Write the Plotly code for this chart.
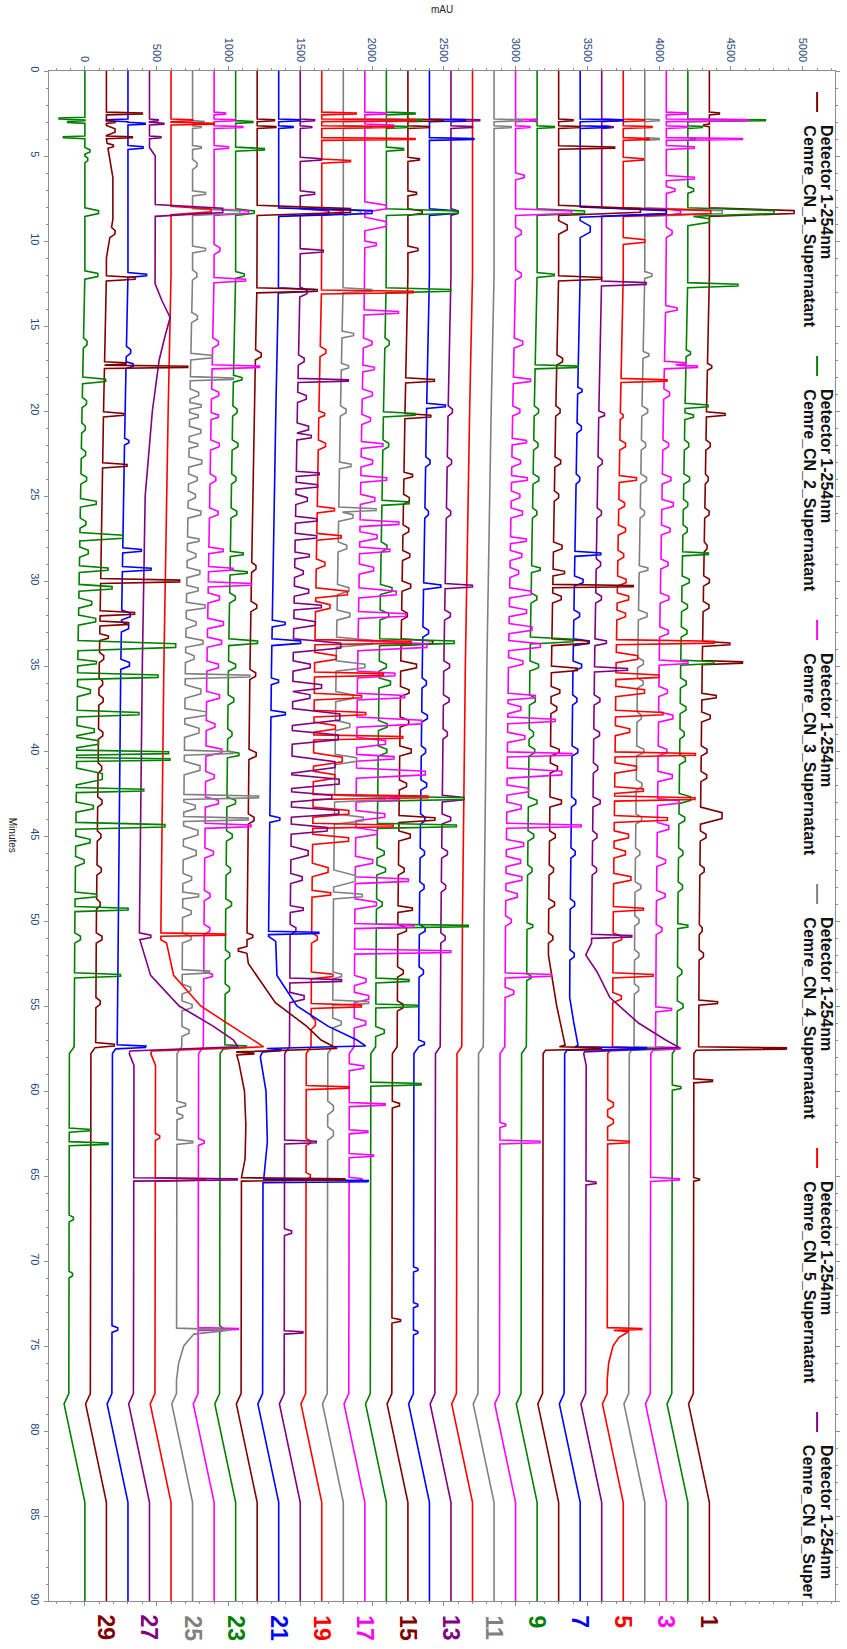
import numpy as np
import plotly.graph_objects as go

# ---- stacked chromatogram data (x: mAU, y: minutes) -------------------------
N_RUNS = 30
OFFSET_STEP = 150          # mAU shift between consecutive runs
RUN_COLORS = ["#800000", "#008000", "#ff00ff", "#808080", "#ff0000", "#800080", "#0000ff"]
X_TICKS = [0, 500, 1000, 1500, 2000, 2500, 3000, 3500, 4000, 4500, 5000]
Y_TICKS = list(range(0, 91, 5))
LABELED_RUNS = [1, 3, 5, 7, 9, 11, 13, 15, 17, 19, 21, 23, 25, 27, 29]
LEGEND_RUNS = [1, 2, 3, 4, 5, 6]

# gradient baseline drift shared by all runs: (minute, mAU)
DRIFT = [(0, 0), (12, 0), (20, -20), (35, -50), (50, -70), (57.4, -75), (57.8, -108),
         (77.8, -112), (78.4, -145), (84.2, 0), (90, 0)]

# peaks per run: (retention minute, height mAU, half width minutes)
P01 = [(2.5, 70, .08), (3.2, -40, .08), (8.3, 590, .25), (17.4, 30, .2), (20.2, 130, .15), (22, 30, .3),
       (24, 20, .3), (26, 30, .3), (28, 20, .3), (30, 40, .3), (31.5, 40, .3), (33.7, 190, .15),
       (34.8, 280, .12), (36.8, 100, .2), (38, 60, .3), (40, 40, .3), (41.5, 40, .3), (43.8, 150, .5),
       (45, 40, .3), (47, 30, .3), (50.5, 20, .3), (52, 30, .3), (54.8, 130, .15), (57.5, 620, .1),
       (59.4, 130, .12), (65.2, 40, .1)]
P02 = [(2.9, 540, .08), (3.3, 100, .08), (4.0, 50, .08), (7.0, 40, .2), (8.3, 600, .25), (8.8, 150, .3),
       (12.6, 350, .15), (16.6, 30, .2), (19.7, 160, .15), (20.3, 60, .2), (22, 30, .3), (24, 40, .3),
       (25.5, 30, .3), (27, 30, .3), (28.4, 180, .12), (30, 50, .3), (31.5, 40, .3), (33, 40, .3),
       (34.8, 230, .15), (36, 40, .3), (37.5, 40, .3), (39, 30, .3), (40.5, 40, .3), (42.8, 80, .3),
       (44, 40, .3), (46, 30, .3), (48, 30, .3), (50.3, 70, .15), (53, 30, .3), (55, 40, .3), (59.8, 60, .15)]
P03 = [(2.5, 150, .08), (2.9, 570, .08), (3.3, 150, .08), (4.0, 530, .08), (4.5, 195, .12), (6.3, 195, .15),
       (7.0, 60, .2), (8.3, 100, .2), (9.5, 40, .3), (14.0, 80, .2), (17.2, 150, .12), (17.4, 230, .12),
       (19, 40, .3), (22, 40, .3), (24, 60, .3), (25.5, 80, .3), (27, 60, .3), (29, 50, .3), (31, 60, .3),
       (33, 60, .3), (34.8, 200, .15), (36.5, 60, .3), (38, 100, .3), (40, 60, .3), (41.5, 100, .3),
       (43, 150, .2), (44.5, 80, .3), (46.5, 60, .3), (48.5, 60, .3), (50.5, 40, .3), (55.2, 110, .15),
       (57.5, 180, .1), (65.2, 200, .12)]
P04 = [(2.9, 100, .08), (4.0, 100, .08), (8.3, 540, .25), (12, 50, .2), (16.7, 40, .2), (20, 40, .3),
       (22, 30, .3), (24, 40, .3), (26, 30, .3), (29.3, 60, .2), (32, 60, .3), (34.8, 40, .3), (36, 40, .3),
       (38, 30, .3), (40, 50, .3), (42, 40, .3), (44, 40, .3), (46, 30, .3), (48, 40, .3), (50, 30, .3),
       (52, 30, .3), (54, 30, .3), (57.5, 230, .1)]
P05 = [(2.9, 150, .08), (3.3, 200, .08), (4.0, 180, .08), (5.2, 140, .12), (8.3, 610, .25), (10.0, 150, .2),
       (18.2, 320, .12), (20.3, 20, .2), (22, 40, .3), (24, 120, .2), (25.5, 40, .3), (27, 50, .3),
       (28.5, 40, .3), (30, 60, .3), (31, 80, .3), (32, 60, .3), (33.6, 680, .15), (34.5, 150, .3),
       (35.6, 300, .2), (36.5, 200, .3), (37.8, 330, .2), (38.8, 100, .3), (40.2, 560, .15), (41, 150, .3),
       (42.3, 200, .2), (42.8, 560, .15), (44, 370, .2), (45, 100, .3), (46, 80, .3), (47.5, 120, .3),
       (49.3, 210, .15), (51, 60, .3), (53.2, 280, .15), (54.5, 60, .3), (57.5, 200, .1), (60.8, 40, .3),
       (61.8, 40, .3), (63, 150, .12), (74.0, 240, .08)]
P06 = [(2.9, 120, .08), (3.3, 80, .08), (8.3, 450, .25), (12.5, 310, .15), (20.2, 40, .2), (23, 30, .3),
       (26, 30, .3), (29, 30, .3), (31, 40, .3), (33.6, 80, .2), (35.2, 230, .15), (37, 40, .3), (39, 40, .3),
       (41, 30, .3), (43, 50, .3), (45, 30, .3), (47, 30, .3), (50.9, 280, .12), (65.4, 70, .12)]
P07 = [(2.9, 300, .08), (3.3, 200, .08), (8.3, 600, .3), (9.3, 70, .5), (18.8, 30, .2), (21, 30, .3),
       (24, 25, .3), (28.4, 180, .15), (30, 60, .3), (32, 40, .3), (33.6, 110, .2), (35, 60, .3), (37, 30, .3),
       (40, 40, .3), (43, 30, .3), (46, 30, .3), (49, 30, .3), (52, 30, .3), (57.5, 520, .1)]
P08 = [(2.9, 100, .08), (3.3, 150, .08), (4.5, 390, .1), (8.2, 570, .3), (9.2, 60, .4), (12.2, 300, .15),
       (17, 40, .3), (20, 30, .3), (23, 40, .3), (25, 30, .3), (28, 60, .3), (29.5, 80, .2), (30.3, 560, .1),
       (31, 60, .3), (33.6, 250, .2), (35.2, 180, .2), (36.5, 60, .3), (37.5, 40, .3), (40, 60, .3),
       (41, 50, .3), (43, 80, .3), (45, 40, .3), (47, 30, .3), (49, 40, .3), (51, 30, .3), (57.5, 330, .1)]
P09 = [(2.9, -50, .08), (3.3, 120, .08), (8.3, 330, .2), (12.0, 120, .15), (17.4, 300, .12), (20, 30, .3),
       (22, 30, .3), (24, 40, .3), (26, 30, .3), (29.3, 60, .2), (31, 40, .3), (33.5, 300, .2), (35, 60, .3),
       (37, 40, .3), (39, 30, .3), (40, 40, .3), (43, 60, .3), (45, 40, .3), (47, 30, .3), (50.3, 40, .2),
       (53.3, 30, .2)]
P10 = [(2.9, 150, .08), (3.3, 100, .08), (6.2, 60, .2), (8.3, 390, .2), (9.5, 40, .3), (12, 40, .3),
       (16, 60, .3), (18.2, 120, .2), (20, 50, .3), (21.8, 100, .2), (23, 60, .3), (24, 110, .2), (25, 60, .3),
       (26, 80, .3), (27.6, 110, .2), (28.5, 80, .3), (29.5, 60, .3), (30.7, 150, .3), (31.8, 120, .3),
       (32.8, 160, .3), (33.8, 220, .3), (34.8, 100, .3), (36.8, 190, .2), (37.5, 90, .3), (38.2, 330, .2),
       (39.2, 120, .3), (40.2, 450, .15), (41.3, 380, .3), (42.3, 150, .3), (43.3, 100, .3), (44.4, 520, .15),
       (45.5, 120, .3), (46.5, 100, .3), (47.5, 110, .3), (48.5, 80, .3), (50, 40, .3), (53.2, 320, .15),
       (54.2, 60, .3), (62, 40, .15), (63, 280, .12)]
P11 = [(2.9, 200, .08), (3.3, 120, .08)]
P12 = []
P13 = [(2.9, 200, .08), (3.3, 150, .08), (8.3, 50, .2), (20, 30, .3), (23, 30, .3), (26, 30, .3),
       (30.3, 190, .15), (32, 40, .3), (35, 40, .3), (37, 40, .3), (39, 30, .3), (42.8, 150, .2), (44, 60, .3),
       (46, 40, .3), (48, 30, .3), (51, 30, .3)]
P14 = [(2.9, 250, .08), (4.0, 310, .08), (8.3, 200, .2), (19.7, 130, .15), (23, 30, .3), (26, 25, .3),
       (30.3, 120, .2), (33, 40, .3), (36, 30, .3), (38, 40, .3), (40, 30, .3), (42, 40, .3), (44, 30, .3),
       (46, 30, .3), (48, 30, .3), (50.5, 40, .3), (53, 30, .3), (57.2, 40, .2), (70.5, 30, .15),
       (72.6, 30, .15), (74.2, 30, .15)]
P15 = [(2.9, 250, .08), (3.3, 150, .08), (5.2, 80, .12), (7.2, 60, .15), (8.3, 100, .2), (10.5, 70, .2),
       (18.2, 200, .15), (20.3, 180, .15), (23.8, 60, .2), (25.2, 40, .3), (27, 40, .3), (28.5, 50, .3),
       (30.3, 60, .3), (32, 40, .3), (33.6, 220, .2), (35, 110, .3), (36.5, 60, .3), (38.3, 60, .3),
       (40, 80, .3), (42, 50, .3), (44, 250, .2), (45, 80, .3), (47, 40, .3), (49.3, 100, .2), (50.5, 60, .3),
       (53, 40, .3), (55, 40, .3), (60.8, 50, .2), (73.5, 60, .15)]
P16 = [(2.5, 200, .08), (2.9, 250, .08), (3.3, 150, .08), (4.6, 120, .12), (8.3, 500, .2), (12.9, 450, .15),
       (16, 30, .3), (20.2, 220, .15), (22, 40, .3), (25.4, 190, .15), (28, 40, .3), (30.5, 80, .3),
       (32, 60, .3), (33.6, 520, .2), (35, 50, .3), (36, 80, .3), (38.5, 60, .3), (40, 60, .3),
       (42.8, 600, .15), (44.4, 550, .15), (46, 50, .3), (47, 60, .3), (49, 40, .3), (50.3, 640, .12),
       (53.5, 230, .15), (55.0, 290, .12), (56.5, 60, .3), (59.6, 350, .12)]
P17 = [(2.5, 150, .08), (2.9, 300, .08), (3.2, 200, .08), (8.0, 150, .3), (9.0, 150, .4), (10.2, 80, .2),
       (14.2, 240, .15), (16, 60, .3), (17.5, 80, .2), (19, 70, .3), (20.5, 60, .3), (22, 150, .2), (23, 80, .3),
       (24, 180, .2), (25.2, 100, .3), (26.6, 270, .2), (27.4, 120, .3), (28.2, 210, .2), (29.3, 100, .3),
       (30.7, 260, .3), (32, 330, .2), (33.8, 480, .3), (35.5, 260, .2), (36.8, 330, .2), (38.3, 450, .3),
       (39.5, 200, .3), (40.4, 260, .2), (41.3, 480, .3), (42.8, 300, .2), (43.8, 200, .3), (44.8, 150, .3),
       (46.5, 120, .3), (47.6, 370, .2), (49, 150, .3), (50.3, 410, .15), (51.8, 670, .15), (53.5, 80, .3),
       (54.5, 100, .3), (56, 80, .3), (58.6, 100, .2), (60.8, 250, .12), (62.4, 130, .12), (63.8, 170, .12),
       (65.2, 90, .12)]
P18 = [(2.9, 450, .08), (3.3, 200, .08), (8.3, 120, .2), (12.9, 200, .15), (15.5, 80, .2), (17.4, 50, .2),
       (20, 40, .3), (23.2, 80, .2), (25.8, 260, .15), (26.2, 100, .3), (28, 60, .3), (30.5, 80, .3),
       (32, 90, .3), (33.6, 250, .3), (35, 200, .3), (36.8, 120, .3), (38.5, 100, .3), (40.5, 150, .3),
       (42.8, 350, .2), (44, 200, .3), (47.5, 150, .5), (48.5, 200, .2), (53.2, 60, .2), (54.8, 250, .15),
       (56, 60, .3), (61, 40, .4), (62.5, 40, .4)]
P19 = [(2.5, 240, .08), (2.9, 650, .08), (3.3, 500, .08), (4.0, 650, .08), (5.3, 200, .12), (8.3, 150, .2),
       (13.0, 640, .12), (16.5, 40, .3), (20.2, 40, .2), (22, 50, .3), (25.8, 120, .2), (27.4, 170, .2),
       (29, 60, .3), (30.7, 220, .3), (31.5, 100, .3), (33.6, 670, .15), (34.5, 150, .3), (35.5, 480, .15),
       (36.8, 330, .2), (37.8, 360, .2), (38.6, 150, .3), (39.2, 620, .15), (40.5, 200, .4), (41.5, 150, .3),
       (42.7, 800, .15), (43.6, 250, .3), (44.4, 560, .15), (45.2, 250, .3), (47, 110, .4), (48.4, 130, .2),
       (51, 40, .3), (53.2, 150, .2), (55.0, 350, .15), (56, 30, .4), (59.8, 300, .12), (63, 30, .2),
       (65, 30, .2)]
P20 = [(2.9, 100, .08), (3.3, 80, .08), (5.2, 150, .12), (7.2, 100, .15), (8.3, 200, .2), (10.6, 160, .15),
       (13, 50, .3), (17, 40, .3), (18.2, 350, .12), (19.2, 60, .3), (21.0, 80, .3), (21.5, 100, .2),
       (23.7, 160, .15), (24.4, 150, .2), (25.2, 80, .3), (26.4, 150, .2), (27.4, 150, .2), (28.5, 100, .2),
       (29.5, 60, .3), (30.6, 100, .3), (31.5, 190, .2), (32.5, 150, .3), (33.8, 330, .4), (35, 120, .3),
       (36.2, 200, .3), (36.8, 120, .3), (38.0, 330, .5), (39.2, 320, .4), (40.8, 300, .5), (41.8, 330, .4),
       (42.7, 280, .3), (43.6, 330, .3), (44.6, 250, .3), (46, 120, .4), (47.5, 80, .3), (49.3, 90, .2),
       (50.5, 40, .3), (53.5, 360, .15), (54.5, 100, .3), (63, 220, .12), (68.3, 50, .2), (74.2, 130, .1)]
P21 = [(2.9, 150, .08), (3.3, 100, .08), (8.3, 650, .25), (12.9, 250, .15), (32.5, 90, .2), (33.6, 200, .2),
       (35.9, 50, .2), (37.8, 100, .2), (44, 70, .2), (50.7, 350, .1), (57.6, 110, .1), (65.3, 730, .1)]
P22 = [(2.9, 120, .08), (3.3, 130, .08), (8.2, 650, .3), (12.9, 420, .15), (16.7, 40, .3), (29.2, 30, .3),
       (31.5, 40, .3), (35.5, 40, .3), (40.2, 50, .3), (44, 40, .3), (50.9, 40, .2), (51.7, -60, .2),
       (57.8, 120, .08), (65.2, 720, .1)]
P23 = [(3.0, 120, .08), (4.6, 200, .12), (8.3, 130, .2), (12.0, 60, .2), (18.1, 60, .2), (20, 30, .3),
       (22, 40, .3), (24, 30, .3), (26, 40, .3), (28.4, 90, .15), (29.5, 120, .15), (31, 40, .3),
       (33.6, 200, .2), (35, 50, .3), (37, 40, .3), (39, 30, .3), (40.2, 80, .2), (43, 60, .3), (45, 40, .3),
       (47, 30, .3), (49, 40, .3), (52, 30, .3), (54, 30, .3), (57.4, 150, .12), (74, 20, .2)]
P24 = [(2.5, 80, .08), (2.9, 150, .08), (3.3, 200, .08), (4.5, 100, .12), (8.3, 240, .2), (10.5, 40, .3),
       (12.3, 220, .15), (16.0, 40, .3), (17.4, 330, .12), (19, 50, .3), (20.3, 50, .2), (22, 60, .3),
       (24, 40, .3), (26, 60, .3), (28.2, 100, .2), (29.3, 170, .15), (30.2, 300, .15), (31.0, 80, .3),
       (32.5, 110, .3), (33.6, 100, .3), (35, 80, .3), (36.8, 90, .3), (38.5, 60, .3), (40, 110, .3),
       (41.5, 60, .3), (43.0, 90, .3), (44.4, 320, .15), (46, 60, .3), (48.5, 40, .3), (50.5, 40, .3),
       (53.2, 60, .2), (63, 40, .2), (74.0, 280, .08)]
P25 = [(3.0, 80, .08), (3.3, 60, .08), (4.5, 60, .12), (5.5, 30, .3), (7.2, 90, .15), (8.3, 330, .2),
       (10.5, 90, .2), (12, 30, .3), (14.5, 40, .3), (16.8, 150, .2), (18.1, 300, .12), (19.0, 60, .3),
       (19.7, 80, .2), (20.3, 60, .2), (21.2, 80, .3), (22.0, 60, .2), (23, 90, .3), (24, 60, .3), (25, 50, .3),
       (26, 90, .3), (27.6, 80, .2), (28.5, 60, .3), (29.5, 90, .3), (30.5, 80, .25), (31.5, 130, .25),
       (32.5, 70, .3), (33.6, 120, .3), (34.5, 60, .3), (35.6, 450, .15), (36.5, 110, .4), (37.8, 150, .3),
       (38.8, 100, .4), (40.1, 340, .15), (41, 110, .4), (42.7, 520, .15), (43.3, 80, .3), (44.0, 450, .15),
       (44.8, 100, .4), (46, 90, .4), (47.5, 60, .3), (48.5, 110, .2), (49.5, 60, .3), (51, 60, .3),
       (53.0, 190, .15), (54, 60, .3), (55, 70, .3), (56.5, 50, .3), (60.8, 60, .2), (61.5, 40, .2),
       (63, 110, .15)]
P26 = [(2.9, 150, .08), (3.1, 300, .08), (8.2, 280, .25), (50.8, 450, .1), (62.7, 30, .2), (65.2, 350, .1)]
P27 = [(2.9, 60, .08), (3.1, 100, .08), (3.9, 80, .08), (8.2, 470, .35), (50.9, 80, .2), (65.2, 720, .1)]
P28 = [(2.9, -150, .08), (3.1, 120, .08), (4.5, 105, .12), (12.0, 130, .15), (16.5, 30, .3), (17.3, 50, .2),
       (21.8, 30, .2), (28.2, 130, .15), (29.3, 200, .15), (32.0, 60, .3), (32.7, 50, .3), (34.9, 60, .3),
       (57.4, 200, .12), (74.0, 40, .2)]
P29 = [(2.5, 250, .08), (3.0, 60, .08), (3.5, 60, .3), (3.9, 180, .08), (4.4, 40, .15), (7.5, 45, 3.5),
       (9.5, 30, .3), (12.2, 200, .15), (17.2, 150, .1), (17.4, 580, .1), (20.2, 140, .15), (23.2, 170, .15),
       (30.0, 550, .15), (31.9, 240, .15), (32.5, 200, .15), (33.3, 60, .2), (34.5, 30, .3), (36, 25, .3),
       (37, 30, .3), (39, 30, .3), (41, 25, .3), (43, 30, .3), (45, 25, .3), (47, 30, .3), (49, 25, .3),
       (51.0, 40, .3), (54.8, 30, .3), (57.3, 130, .15)]
P30 = [(2.8, -180, .08), (3.0, -120, .08), (3.9, -150, .08), (4.7, 35, .2), (5.2, 20, .2), (8.3, 95, .25),
       (12.0, 90, .25), (16.0, 25, .3), (18.2, 160, .2), (19.5, 30, .3), (21.0, 25, .3), (22.5, 30, .3),
       (24.0, 40, .3), (25.4, 110, .25), (26.6, 40, .3), (27.4, 300, .25), (28.3, 60, .3), (29.3, 200, .2),
       (30.4, 230, .2), (31.3, 90, .3), (32.3, 120, .3), (33.8, 680, .3), (34.8, 130, .2), (35.6, 560, .2),
       (36.5, 90, .3), (37.8, 430, .2), (38.8, 120, .3), (39.5, 150, .3), (40.1, 640, .15), (40.5, 650, .12),
       (41.5, 180, .5), (42.3, 470, .15), (43.3, 120, .3), (44.4, 620, .2), (45.3, 100, .3), (46.5, 60, .3),
       (48.5, 150, .2), (49.3, 370, .15), (51.0, 40, .3), (53.2, 320, .15), (62.3, 150, .12), (63.1, 270, .12),
       (67.5, 30, .2), (70.8, 25, .2)]

# slow baseline humps and tails of single runs: (minute, mAU)
H05 = [(0, 0), (74.05, 0), (74.15, 150), (74.5, 80), (75, 40), (76, 10), (77, 0), (90, 0)]
H06 = [(0, 0), (51.3, 0), (52, -40), (53, 40), (54.5, 130), (56, 330), (57, 520), (57.45, 620), (57.7, -20),
       (58.5, 0), (90, 0)]
H07 = [(0, 0), (54.5, 0), (56, 30), (57.3, 60), (57.6, 0), (90, 0)]
H08 = [(0, 0), (52, 0), (55, 60), (57.3, 120), (57.6, 0), (90, 0)]
H21 = [(0, 0), (50.9, 0), (51.2, 50), (53.2, 60), (55, 200), (56.2, 420), (57.0, 620), (57.35, 680), (57.5, 0),
       (58, -20), (60, 20), (63, 30), (65, 10), (65.4, 0), (90, 0)]
H22 = [(0, 0), (51.9, 0), (52.5, 10), (54.8, 200), (56.2, 420), (57.0, 520), (57.5, 640), (57.7, -40),
       (58.3, -20), (60, 20), (62, 30), (64, 25), (65.0, 0), (90, 0)]
H25 = [(0, 0), (73.95, 0), (74.05, 380), (74.3, 120), (75, 50), (76, 15), (77, 0), (90, 0)]
H26 = [(0, 0), (51.1, 0), (51.3, 40), (53.2, 90), (55, 280), (56.2, 500), (57.0, 650), (57.4, 720),
       (57.65, -40), (58.5, 0), (90, 0)]
H27 = [(0, 0), (4.5, 0), (5, 40), (12.5, 40), (13.5, 90), (14.5, 150), (15.5, 120), (17, 80), (20, 40),
       (24, 10), (25, 0), (51, 0), (53.2, 80), (55, 280), (56.2, 520), (57.0, 660), (57.4, 690), (57.65, -40),
       (58.5, 0), (90, 0)]

PEAKS = {1: P01, 2: P02, 3: P03, 4: P04, 5: P05, 6: P06, 7: P07, 8: P08, 9: P09, 10: P10,
         11: P11, 12: P12, 13: P13, 14: P14, 15: P15, 16: P16, 17: P17, 18: P18, 19: P19, 20: P20,
         21: P21, 22: P22, 23: P23, 24: P24, 25: P25, 26: P26, 27: P27, 28: P28, 29: P29, 30: P30}
HUMPS = {5: H05, 6: H06, 7: H07, 8: H08, 21: H21, 22: H22, 25: H25, 26: H26, 27: H27}

FLAT_TOP = 0.35   # fraction of the half width drawn as a flat peak top


def run_offset(k):
    return (N_RUNS - k) * OFFSET_STEP


def peak_outline(tp, h, w):
    return [tp - w, tp - FLAT_TOP * w, tp + FLAT_TOP * w, tp + w], [0, h, h, 0]


def run_trace(k):
    """Signal of run k evaluated at every knot of its baseline, hump and peaks."""
    peaks = PEAKS[k]
    hump = HUMPS.get(k, [(0, 0), (90, 0)])
    knots = {t for t, _ in DRIFT} | {t for t, _ in hump}
    outlines = [peak_outline(*p) for p in peaks]
    for ts, _ in outlines:
        knots.update(ts)
    t = np.array(sorted(x for x in knots if 0 <= x <= 90))
    v = run_offset(k) + np.interp(t, *zip(*DRIFT)) + np.interp(t, *zip(*hump))
    for ts, vs in outlines:
        v = v + np.interp(t, ts, vs, left=0, right=0)
    return t, v


# ---- layout geometry (pixels) ----------------------------------------------
W, H = 847, 1649
ML, MR, MT, MB = 49, 7, 71, 48
PW, PH = W - ML - MR, H - MT - MB


def px(xp):
    return (xp - ML) / PW


def py(yp):
    return (H - MB - yp) / PH


fig = go.Figure()
for k in range(1, N_RUNS + 1):
    t, v = run_trace(k)
    fig.add_trace(go.Scatter(x=v, y=t, mode="lines", showlegend=False, hoverinfo="skip",
                             line=dict(color=RUN_COLORS[(k - 1) % 7], width=1.6)))

tick_font = dict(family="Arial", size=11, color="#2a4578")
axis_common = dict(showgrid=False, zeroline=False, showline=True, linecolor="#8c8c8c", linewidth=1,
                   mirror="ticks", ticks="outside", ticklen=4, tickcolor="#8c8c8c", tickangle=90,
                   tickfont=tick_font)
fig.update_xaxes(range=[-250, 5225], side="top", tickvals=X_TICKS, ticktext=[str(v) for v in X_TICKS],
                 minor=dict(tick0=0, dtick=100, ticks="outside", ticklen=2, tickcolor="#8c8c8c"),
                 **axis_common)
fig.update_yaxes(range=[90, 0], tickvals=Y_TICKS, ticktext=[str(v) for v in Y_TICKS],
                 minor=dict(tick0=0, dtick=1, ticks="outside", ticklen=2, tickcolor="#8c8c8c"),
                 **axis_common)

ann = []
shapes = []
ann.append(dict(text="mAU", x=px(444), y=py(10), xref="paper", yref="paper", showarrow=False,
                font=dict(family="Arial", size=10, color="#222"), xanchor="center", yanchor="middle"))
ann.append(dict(text="Minutes", x=px(13), y=py(835), xref="paper", yref="paper", showarrow=False,
                textangle=90, font=dict(family="Arial", size=10, color="#222"),
                xanchor="center", yanchor="middle"))

# legend column drawn along the right edge
legend_font = dict(family="Arial", size=16, color="#111")
for i, k in enumerate(LEGEND_RUNS):
    ys = 123 + i * 264
    color = RUN_COLORS[(k - 1) % 7]
    shapes.append(dict(type="line", xref="paper", yref="paper", x0=px(822), x1=px(822),
                       y0=py(ys - 31), y1=py(ys - 11), line=dict(color=color, width=2)))
    ann.append(dict(text="<b>Detector 1-254nm</b>", x=px(832), y=py(ys), xref="paper", yref="paper",
                    showarrow=False, textangle=90, font=legend_font, xanchor="center", yanchor="top"))
    name = f"Cemre_CN_{k}_Supernatant" if k < 6 else f"Cemre_CN_{k}_Super"
    ann.append(dict(text=f"<b>{name}</b>", x=px(814), y=py(ys), xref="paper", yref="paper",
                    showarrow=False, textangle=90, font=legend_font, xanchor="center", yanchor="top"))

# run numbers under the stack
for k in LABELED_RUNS:
    ann.append(dict(text=f"<b>{k}</b>", x=run_offset(k), y=py(1613), xref="x", yref="paper",
                    showarrow=False, textangle=90, xanchor="center", yanchor="top",
                    font=dict(family="Arial", size=23, color=RUN_COLORS[(k - 1) % 7])))

fig.update_layout(width=W, height=H, margin=dict(l=ML, r=MR, t=MT, b=MB),
                  paper_bgcolor="white", plot_bgcolor="white", annotations=ann, shapes=shapes)
fig.write_html("out.html")
